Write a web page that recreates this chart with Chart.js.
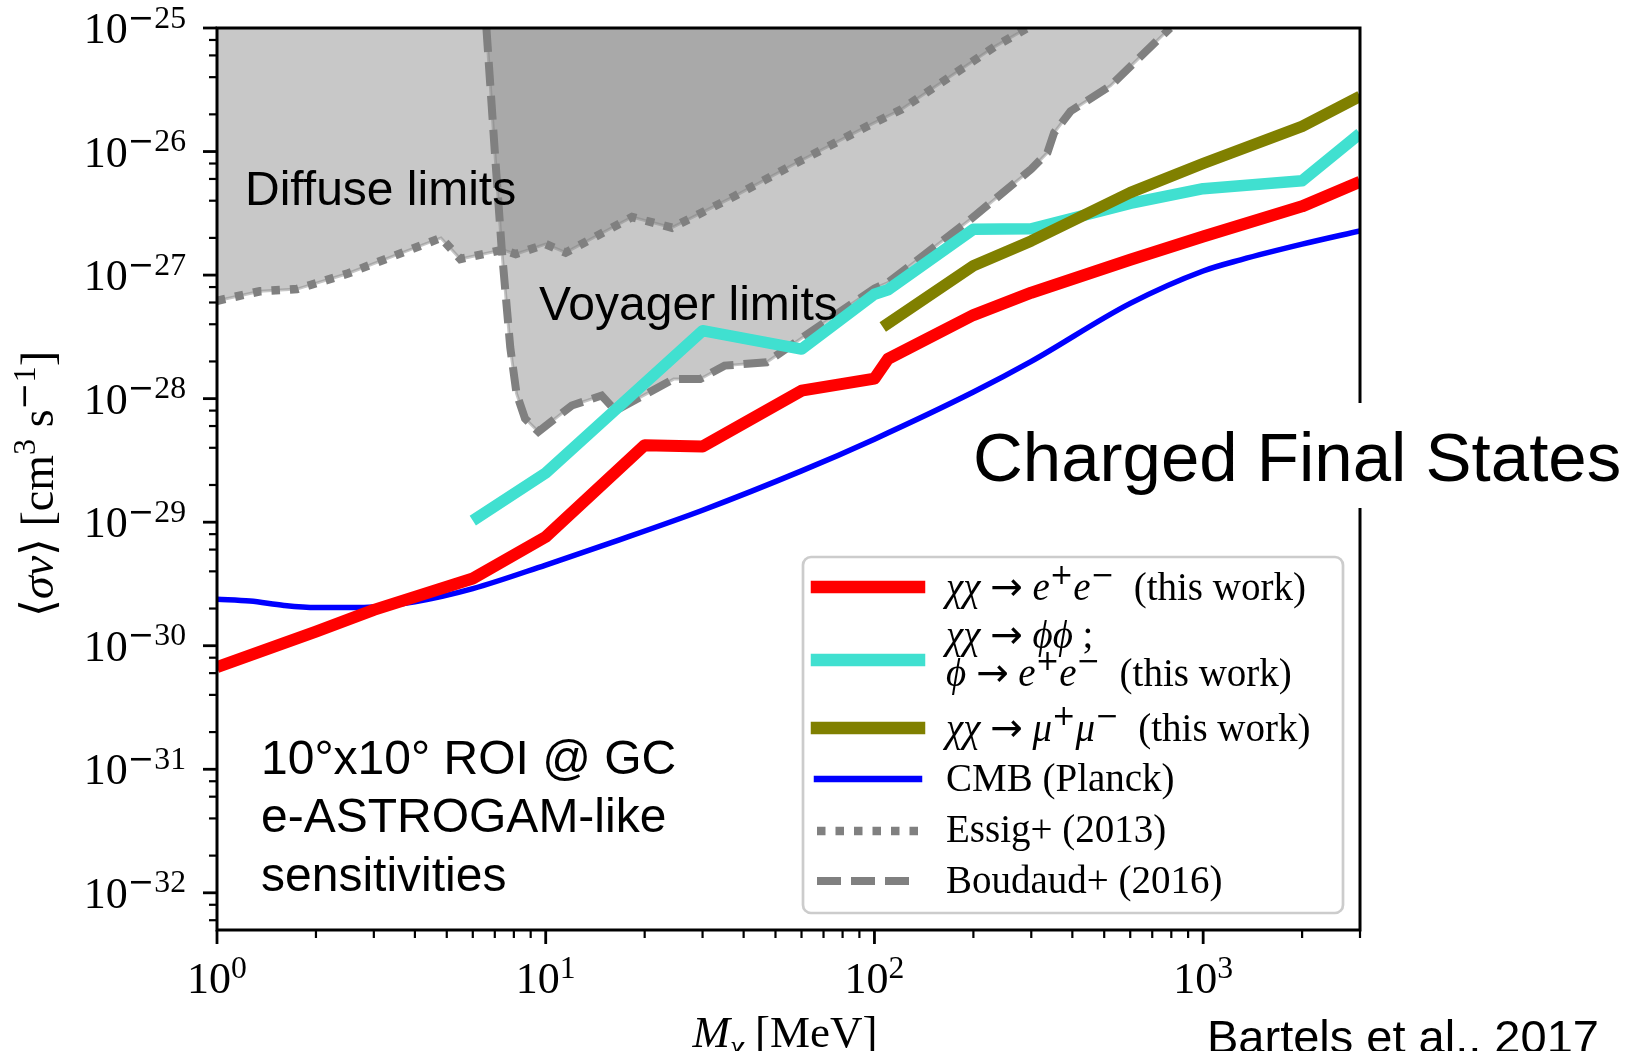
<!DOCTYPE html>
<html>
<head>
<meta charset="utf-8">
<script src="https://cdn.jsdelivr.net/npm/chart.js@4.4.1/dist/chart.umd.min.js"></script>
<style>
  html, body { margin: 0; padding: 0; background: #fff; overflow: hidden; }
  #wrap { position: relative; width: 1641px; height: 1051px; }
</style>
</head>
<body>
<div id="wrap"><canvas id="c" width="1641" height="1051"></canvas></div>
<script>
// ---- Dark-matter mass [MeV] and <sigma v> [cm^3 s^-1] ----
const massEE = [1, 2, 3, 6, 10, 20, 30, 60, 100, 110, 200, 300, 600, 1000, 2000, 3000];
const sigvEE = [6.7e-31, 1.3e-30, 1.95e-30, 3.5e-30, 7.6e-30, 4.2e-29, 4.1e-29, 1.16e-28, 1.45e-28, 2.1e-28, 4.75e-28, 7.2e-28, 1.33e-27, 2.05e-27, 3.6e-27, 5.7e-27];

const massPhi = [6, 10, 30, 60, 100, 110, 200, 300, 600, 1000, 2000, 3000];
const sigvPhi = [1.03e-29, 2.5e-29, 3.55e-28, 2.52e-28, 7.0e-28, 7.6e-28, 2.35e-27, 2.37e-27, 3.8e-27, 5.0e-27, 5.8e-27, 1.4e-26];

const massMuMu = [106, 200, 300, 600, 1000, 2000, 3000];
const sigvMuMu = [3.8e-28, 1.19e-27, 1.89e-27, 4.65e-27, 8.0e-27, 1.6e-26, 2.8e-26];

const massCMB = [1, 1.26, 1.6, 2, 2.8, 4, 6, 10, 16, 30, 60, 100, 200, 300, 600, 1000, 1300, 2000, 3000];
const sigvCMB = [2.38e-30, 2.3e-30, 2.12e-30, 2.04e-30, 2.04e-30, 2.27e-30, 2.9e-30, 4.5e-30, 6.9e-30, 1.25e-29, 2.6e-29, 4.7e-29, 1.13e-28, 2.0e-28, 5.9e-28, 1.08e-27, 1.33e-27, 1.78e-27, 2.28e-27];

const massEssig = [1, 1.35, 1.75, 2.5, 3.5, 4.8, 5.5, 7.4, 8.1, 10, 11.5, 18.3, 24.2, 37.6, 60, 95, 121, 233, 292];
const sigvEssig = [6.2e-28, 7.4e-28, 7.7e-28, 1.03e-27, 1.45e-27, 2.0e-27, 1.35e-27, 1.6e-27, 1.48e-27, 1.78e-27, 1.52e-27, 2.95e-27, 2.42e-27, 4.36e-27, 8.5e-27, 1.6e-26, 2.2e-26, 7.1e-26, 1.0e-25];

const massBoudaud = [6.6, 7.0, 7.35, 7.8, 8.15, 8.65, 9.5, 12, 14.8, 16.3, 24.5, 29.5, 35, 47, 58, 100, 110, 196, 300, 336, 352, 395, 522, 615, 794];
const sigvBoudaud = [1e-25, 1e-26, 1.6e-27, 2.6e-28, 1.1e-28, 6.9e-29, 5.4e-29, 8.8e-29, 1.06e-28, 8.0e-29, 1.44e-28, 1.44e-28, 1.85e-28, 1.97e-28, 2.9e-28, 7.8e-28, 8.7e-28, 2.83e-27, 7.2e-27, 9.8e-27, 1.42e-26, 2.12e-26, 3.4e-26, 5.2e-26, 1.0e-25];

// ---- Axis ranges and tick exponents ----
const xRange = [1, 3000];
const yRange = [5e-33, 1e-25];
const xTickExp = [0, 1, 2, 3];
const yTickExp = [-32, -31, -30, -29, -28, -27, -26, -25];
const xMinorSubs = [2, 3, 4, 5, 6, 7, 8, 9];
const yMinorSubs = [2, 4, 6, 8];

const pts = (xs, ys) => xs.map((x, i) => ({ x: x, y: ys[i] }));

const F_SERIF = '"Liberation Serif", "DejaVu Serif", serif';
const F_SYM = '"DejaVu Sans", sans-serif';
const F_SANS = '"Liberation Sans", Arial, sans-serif';
const GREY = '#808080';
const SHADE = 'rgba(128,128,128,0.43)';

// ---- small rich-text helper: 'r' roman, 'i' italic, 'a' symbol,
//      '^' / '^a' superscript (text / symbol), '_' italic subscript ----
function fontFor(style, size) {
  const base = style.replace('^', '');
  if (base === 'a') return size.toFixed(1) + 'px ' + F_SYM;
  const it = (base === 'i' || style === '_');
  return (it ? 'italic ' : '') + size.toFixed(1) + 'px ' + F_SERIF;
}
function drawRich(ctx, parts, x, y, size, align, sup) {
  sup = sup || { scale: 0.7, raise: 0.4 };
  const items = [];
  let w = 0;
  for (const [t, s] of parts) {
    let sz = size, dy = 0;
    if (s[0] === '^') { sz = size * sup.scale; dy = -size * sup.raise; }
    else if (s === '_') { sz = size * 0.7; dy = size * 0.22; }
    const f = fontFor(s, sz);
    ctx.font = f;
    const m = ctx.measureText(t).width;
    items.push({ t, f, dx: w, dy });
    w += m;
  }
  const x0 = align === 'center' ? x - w / 2 : align === 'right' ? x - w : x;
  ctx.textAlign = 'left';
  ctx.textBaseline = 'alphabetic';
  for (const it of items) { ctx.font = it.f; ctx.fillText(it.t, x0 + it.dx, y + it.dy); }
  return w;
}

// ---- legend content ----
const ARROW = [[ ' ', 'r' ], [ '→', 'a' ], [ ' ', 'r' ]];
const legendRows = [
  { ds: 'ee', y: 587, base: [600], text: [
      [[ 'χχ', 'i' ], ...ARROW, [ 'e', 'i' ], [ '+', '^a' ], [ 'e', 'i' ], [ '−', '^a' ], [ '  (this work)', 'r' ]]
    ] },
  { ds: 'phi', y: 660, base: [648, 686], text: [
      [[ 'χχ', 'i' ], ...ARROW, [ 'ϕϕ', 'i' ], [ ' ;', 'r' ]],
      [[ 'ϕ', 'i' ], ...ARROW, [ 'e', 'i' ], [ '+', '^a' ], [ 'e', 'i' ], [ '−', '^a' ], [ '  (this work)', 'r' ]]
    ] },
  { ds: 'mumu', y: 728, base: [741], text: [
      [[ 'χχ', 'i' ], ...ARROW, [ 'μ', 'i' ], [ '+', '^a' ], [ 'μ', 'i' ], [ '−', '^a' ], [ '  (this work)', 'r' ]]
    ] },
  { ds: 'cmb', y: 779, base: [791], text: [[[ 'CMB (Planck)', 'r' ]]] },
  { ds: 'essig', y: 831, base: [842], text: [[[ 'Essig+ (2013)', 'r' ]]] },
  { ds: 'boudaud', y: 881, base: [893], text: [[[ 'Boudaud+ (2016)', 'r' ]]] }
];

const decorations = {
  id: 'decorations',
  afterDatasetsDraw(chart) {
    const ctx = chart.ctx;
    const a = chart.chartArea;
    const xs = chart.scales.x, ys = chart.scales.y;
    ctx.save();

    // region annotations
    ctx.fillStyle = '#000';
    ctx.textAlign = 'left';
    ctx.textBaseline = 'alphabetic';
    ctx.font = '48px ' + F_SANS;
    ctx.fillText('Diffuse limits', 245, 205);
    ctx.fillText('Voyager limits', 539, 320);
    ctx.fillText('10°x10° ROI @ GC', 261, 774);
    ctx.fillText('e-ASTROGAM-like', 261, 832);
    ctx.fillText('sensitivities', 261, 891);

    // spines
    ctx.strokeStyle = '#000';
    ctx.lineWidth = 3;
    ctx.strokeRect(a.left, a.top, a.right - a.left, a.bottom - a.top);

    // ticks (outward)
    ctx.lineCap = 'butt';
    const tickX = (v, len, lw) => {
      const p = xs.getPixelForValue(v);
      ctx.lineWidth = lw;
      ctx.beginPath(); ctx.moveTo(p, a.bottom); ctx.lineTo(p, a.bottom + len); ctx.stroke();
    };
    const tickY = (v, len, lw) => {
      const p = ys.getPixelForValue(v);
      ctx.lineWidth = lw;
      ctx.beginPath(); ctx.moveTo(a.left, p); ctx.lineTo(a.left - len, p); ctx.stroke();
    };
    for (let e = -1; e <= 3; e++) {
      for (const s of xMinorSubs) {
        const v = s * Math.pow(10, e);
        if (v >= xRange[0] && v <= xRange[1] * 1.0001) tickX(v, 8, 2.2);
      }
    }
    for (const e of xTickExp) tickX(Math.pow(10, e), 14, 2.8);
    for (let e = -33; e <= -25; e++) {
      for (const s of yMinorSubs) {
        const v = s * Math.pow(10, e);
        if (v >= yRange[0] * 0.9999 && v <= yRange[1]) tickY(v, 8, 2.2);
      }
    }
    for (const e of yTickExp) tickY(Math.pow(10, e), 14, 2.8);

    // tick labels
    ctx.fillStyle = '#000';
    const tickSup = { scale: 0.72, raise: 0.35 };
    for (const e of xTickExp) {
      const p = xs.getPixelForValue(Math.pow(10, e));
      drawRich(ctx, [[ '10', 'r' ], [ String(e), '^' ]], p, 993, 44, 'center', tickSup);
    }
    for (const e of yTickExp) {
      const p = ys.getPixelForValue(Math.pow(10, e));
      drawRich(ctx, [[ '10', 'r' ], [ '−', '^a' ], [ String(-e), '^' ]], 186, p + 15, 44, 'right', tickSup);
    }

    // axis titles
    drawRich(ctx, [[ 'M', 'i' ], [ 'χ', '_' ], [ ' [MeV]', 'r' ]], 785, 1047, 45, 'center');
    ctx.save();
    ctx.translate(53, 484);
    ctx.rotate(-Math.PI / 2);
    drawRich(ctx, [[ '⟨', 'r' ], [ 'σv', 'i' ], [ '⟩', 'r' ], [ ' [cm', 'r' ], [ '3', '^' ], [ ' s', 'r' ], [ '−', '^a' ], [ '1', '^' ], [ ']', 'r' ]], 0, 0, 46, 'center');
    ctx.restore();

    // legend frame
    const bx = 803, by = 557, bw = 540, bh = 356, r = 8;
    ctx.beginPath();
    ctx.moveTo(bx + r, by);
    ctx.arcTo(bx + bw, by, bx + bw, by + bh, r);
    ctx.arcTo(bx + bw, by + bh, bx, by + bh, r);
    ctx.arcTo(bx, by + bh, bx, by, r);
    ctx.arcTo(bx, by, bx + bw, by, r);
    ctx.closePath();
    ctx.fillStyle = 'rgba(255,255,255,0.85)';
    ctx.fill();
    ctx.strokeStyle = '#cccccc';
    ctx.lineWidth = 2.7;
    ctx.stroke();

    // legend handles and labels
    const byKey = {};
    chart.data.datasets.forEach(d => { if (d.key) byKey[d.key] = d; });
    const legSup = { scale: 0.72, raise: 0.42 };
    for (const row of legendRows) {
      const d = byKey[row.ds];
      ctx.save();
      ctx.strokeStyle = d.borderColor;
      ctx.lineWidth = d.legendWidth || d.borderWidth;
      const dashed = d.borderDash && d.borderDash.length;
      ctx.setLineDash(dashed ? d.borderDash : []);
      ctx.lineCap = dashed ? 'butt' : 'square';
      ctx.beginPath();
      ctx.moveTo(817, row.y);
      ctx.lineTo(919, row.y);
      ctx.stroke();
      ctx.restore();
      ctx.fillStyle = '#000';
      row.text.forEach((line, i) => drawRich(ctx, line, 946, row.base[i], 39, 'left', legSup));
    }

    // panel title on a white patch
    ctx.fillStyle = '#fff';
    ctx.fillRect(962, 403, 679, 105);
    ctx.fillStyle = '#000';
    ctx.font = '69px ' + F_SANS;
    ctx.textAlign = 'left';
    ctx.textBaseline = 'alphabetic';
    ctx.fillText('Charged Final States', 973, 481);

    // reference credit
    ctx.font = '47px ' + F_SANS;
    ctx.fillText('Bartels et al., 2017', 1207, 1053);

    ctx.restore();
  }
};

const chart = new Chart(document.getElementById('c'), {
  type: 'line',
  data: {
    datasets: [
      { key: 'essigFill', data: pts(massEssig, sigvEssig), fill: 'end', backgroundColor: SHADE,
        borderColor: 'rgba(128,128,128,0.45)', borderWidth: 3, pointRadius: 0, order: 21 },
      { key: 'boudaudFill', data: pts(massBoudaud, sigvBoudaud), fill: 'end', backgroundColor: SHADE,
        borderColor: 'rgba(128,128,128,0.45)', borderWidth: 3, pointRadius: 0, order: 20 },
      { key: 'essig', data: pts(massEssig, sigvEssig), borderColor: GREY, borderWidth: 8.5,
        borderDash: [8.5, 10], borderCapStyle: 'butt', fill: false, pointRadius: 0, order: 11 },
      { key: 'boudaud', data: pts(massBoudaud, sigvBoudaud), borderColor: GREY, borderWidth: 8,
        borderDash: [24, 10], borderCapStyle: 'butt', fill: false, pointRadius: 0, order: 10 },
      { key: 'cmb', data: pts(massCMB, sigvCMB), borderColor: '#0000ff', borderWidth: 5.5, legendWidth: 6.5,
        cubicInterpolationMode: 'monotone', fill: false, pointRadius: 0, order: 5 },
      { key: 'phi', data: pts(massPhi, sigvPhi), borderColor: '#40e0d0', borderWidth: 11.5, legendWidth: 12.5,
        borderJoinStyle: 'round', borderCapStyle: 'butt', fill: false, pointRadius: 0, order: 4 },
      { key: 'mumu', data: pts(massMuMu, sigvMuMu), borderColor: '#808000', borderWidth: 11.5, legendWidth: 12.5,
        borderJoinStyle: 'round', borderCapStyle: 'butt', fill: false, pointRadius: 0, order: 3 },
      { key: 'ee', data: pts(massEE, sigvEE), borderColor: '#ff0000', borderWidth: 12, legendWidth: 12.5,
        borderJoinStyle: 'round', borderCapStyle: 'butt', fill: false, pointRadius: 0, order: 2 }
    ]
  },
  options: {
    responsive: false,
    devicePixelRatio: 1,
    animation: false,
    events: [],
    layout: { padding: { left: 217, top: 28, right: 281, bottom: 121 } },
    plugins: { legend: { display: false }, tooltip: { enabled: false } },
    scales: {
      x: {
        type: 'logarithmic', min: xRange[0], max: xRange[1],
        ticks: { display: false }, grid: { display: false }, border: { display: false },
        afterFit(s) { s.height = 0; }
      },
      y: {
        type: 'logarithmic', min: yRange[0], max: yRange[1],
        ticks: { display: false }, grid: { display: false }, border: { display: false },
        afterFit(s) { s.width = 0; }
      }
    }
  },
  plugins: [decorations]
});
</script>
</body>
</html>
